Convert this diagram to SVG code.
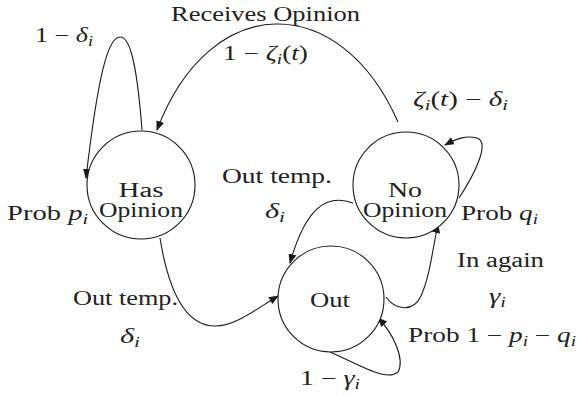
<svg xmlns="http://www.w3.org/2000/svg" width="577" height="396" viewBox="0 0 577 396">
<style>
text{font-family:"Liberation Serif","Times New Roman",serif;font-size:20px;fill:#222}
.it{font-style:italic}
.sub{font-style:italic;font-size:14px}
.node{fill:#fff;stroke:#1a1a1a;stroke-width:1.1}
.edge{fill:none;stroke:#1a1a1a;stroke-width:1.1;marker-end:url(#ah)}
</style>
<defs>
<marker id="ah" markerWidth="10" markerHeight="8" refX="9" refY="4" orient="auto" markerUnits="userSpaceOnUse">
<path d="M0,0 L10,4 L0,8 Z" fill="#1a1a1a"/>
</marker>
</defs>
<rect width="577" height="396" fill="#fff"/>
<g id="connectors">
<path class="edge" d="M142,130 C136,52 128,37 120,37 C108,37 98,75 86,178"/>
<path class="edge" d="M398,122 C340,-10 210,-10 157,130"/>
<path class="edge" d="M459,198 C476,172 490,142 477,138 C466,135 456,139 445,145"/>
<path class="edge" d="M353,203 C325,193 305,210 290,263"/>
<path class="edge" d="M386,297 C395,310 413,313 421,296 C430,276 432,252 438,224"/>
<path class="edge" d="M160,238 C170,300 190,326 215,326 C235,326 255,310 278,296"/>
<path class="edge" d="M330,352 C360,365 386,382 398,372 C405,360 394,334 378,318"/>
</g>
<g id="has-opinion">
<circle class="node" cx="141" cy="185" r="54"/>
<text x="141" y="197" text-anchor="middle" textLength="45" lengthAdjust="spacingAndGlyphs">Has</text>
<text x="141" y="217" text-anchor="middle" textLength="84" lengthAdjust="spacingAndGlyphs">Opinion</text>
</g>
<g id="no-opinion">
<circle class="node" cx="406" cy="185" r="53"/>
<text x="405" y="197" text-anchor="middle" textLength="34" lengthAdjust="spacingAndGlyphs">No</text>
<text x="405" y="217" text-anchor="middle" textLength="84" lengthAdjust="spacingAndGlyphs">Opinion</text>
</g>
<g id="out">
<circle class="node" cx="331" cy="299" r="53"/>
<text x="330" y="307" text-anchor="middle" textLength="40" lengthAdjust="spacingAndGlyphs">Out</text>
</g>
<g id="labels">
<text x="171" y="21" textLength="189" lengthAdjust="spacingAndGlyphs">Receives Opinion</text>
<text x="223" y="60" textLength="85" lengthAdjust="spacingAndGlyphs">1 − <tspan class="it">ζ</tspan><tspan class="sub" dy="4">i</tspan><tspan dy="-4">(</tspan><tspan class="it">t</tspan>)</text>
<text x="35" y="42" textLength="58" lengthAdjust="spacingAndGlyphs">1 − <tspan class="it">δ</tspan><tspan class="sub" dy="4">i</tspan></text>
<text x="7" y="220" textLength="81" lengthAdjust="spacingAndGlyphs">Prob <tspan class="it">p</tspan><tspan class="sub" dy="4">i</tspan></text>
<text x="222" y="183" textLength="110" lengthAdjust="spacingAndGlyphs">Out temp.</text>
<text x="265" y="218" textLength="20" lengthAdjust="spacingAndGlyphs"><tspan class="it">δ</tspan><tspan class="sub" dy="4">i</tspan></text>
<text x="413" y="106" textLength="95" lengthAdjust="spacingAndGlyphs"><tspan class="it">ζ</tspan><tspan class="sub" dy="4">i</tspan><tspan dy="-4">(</tspan><tspan class="it">t</tspan>) − <tspan class="it">δ</tspan><tspan class="sub" dy="4">i</tspan></text>
<text x="461" y="220" textLength="77" lengthAdjust="spacingAndGlyphs">Prob <tspan class="it">q</tspan><tspan class="sub" dy="4">i</tspan></text>
<text x="457" y="267" textLength="87" lengthAdjust="spacingAndGlyphs">In again</text>
<text x="489" y="303" textLength="17" lengthAdjust="spacingAndGlyphs"><tspan class="it">γ</tspan><tspan class="sub" dy="4">i</tspan></text>
<text x="408" y="342" textLength="168" lengthAdjust="spacingAndGlyphs">Prob 1 − <tspan class="it">p</tspan><tspan class="sub" dy="4">i</tspan><tspan dy="-4"> − </tspan><tspan class="it">q</tspan><tspan class="sub" dy="4">i</tspan></text>
<text x="73" y="305" textLength="105" lengthAdjust="spacingAndGlyphs">Out temp.</text>
<text x="120" y="343" textLength="20" lengthAdjust="spacingAndGlyphs"><tspan class="it">δ</tspan><tspan class="sub" dy="4">i</tspan></text>
<text x="300" y="385" textLength="60" lengthAdjust="spacingAndGlyphs">1 − <tspan class="it">γ</tspan><tspan class="sub" dy="4">i</tspan></text>
</g>
</svg>
